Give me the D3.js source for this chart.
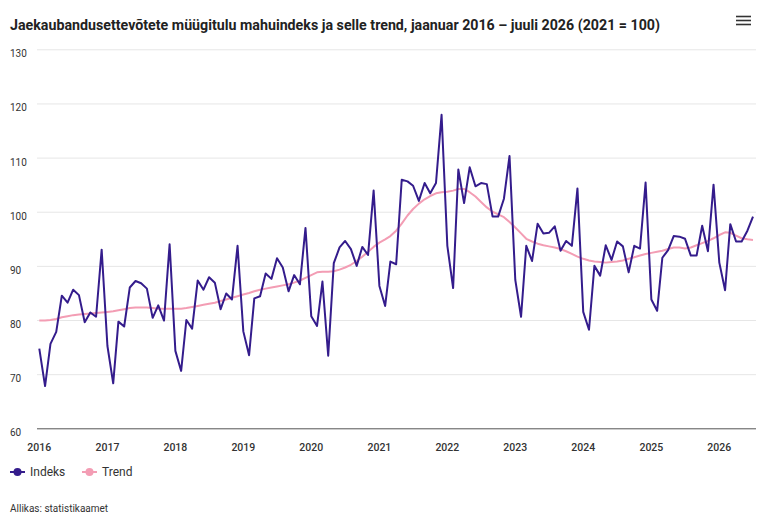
<!DOCTYPE html>
<html>
<head>
<meta charset="utf-8">
<script src="https://cdn.jsdelivr.net/npm/d3@7"></script>
<style>
  body { margin: 0; background: #fff; }
  svg { font-family: Roboto, "Noto Sans", sans-serif; }
</style>
</head>
<body>
<svg id="chart" width="768" height="525"></svg>
<script>
// monthly, January 2016 .. July 2026
var startYear = 2016;
var startMonth = 0;

var indeks = [
  74.7, 67.8, 75.6, 77.8, 84.5, 83.2, 85.6, 84.6, 79.6, 81.4, 80.6, 93.0,
  75.2, 68.3, 79.7, 78.8, 86.0, 87.2, 86.8, 85.8, 80.4, 82.7, 79.9, 94.0,
  74.3, 70.6, 80.0, 78.4, 87.3, 85.6, 87.9, 86.9, 82.0, 84.9, 83.8, 93.7,
  77.9, 73.5, 84.0, 84.4, 88.6, 87.6, 91.4, 89.7, 85.3, 88.3, 86.6, 97.0,
  80.7, 78.9, 87.1, 73.4, 90.5, 93.4, 94.6, 93.1, 90.0, 93.5, 92.0, 103.9,
  86.3, 82.6, 90.8, 90.3, 105.9, 105.6, 104.8, 102.0, 105.3, 103.4, 105.3, 117.9,
  93.7, 85.9, 107.8, 101.6, 108.2, 104.7, 105.3, 105.1, 99.1, 99.1, 102.4, 110.3,
  87.4, 80.6, 93.7, 90.9, 97.8, 96.0, 96.1, 97.3, 92.8, 94.6, 93.7, 104.3,
  81.5, 78.2, 90.0, 88.2, 93.8, 91.1, 94.5, 93.6, 88.8, 93.7, 93.2, 105.4,
  83.8, 81.7, 91.5, 92.9, 95.5, 95.4, 95.0, 91.9, 91.9, 97.4, 92.7, 105.0,
  90.6, 85.5, 97.7, 94.5, 94.5, 96.5, 99.1
];

var trend = [
  79.9, 79.9, 80.0, 80.2, 80.5, 80.7, 80.9, 81.0, 81.1, 81.2, 81.3, 81.4,
  81.5, 81.6, 81.8, 82.0, 82.2, 82.3, 82.3, 82.3, 82.2, 82.1, 82.1, 82.1,
  82.1, 82.1, 82.2, 82.4, 82.6, 82.8, 83.0, 83.2, 83.5, 83.8, 84.1, 84.4,
  84.7, 85.0, 85.3, 85.6, 85.8, 86.0, 86.2, 86.4, 86.6, 86.9, 87.3, 87.8,
  88.3, 88.8, 88.9, 88.9, 89.0, 89.3, 89.7, 90.2, 90.9, 91.7, 92.6, 93.5,
  94.3, 94.9, 95.5, 96.5, 97.8, 99.3, 100.5, 101.5, 102.3, 102.9, 103.4, 103.6,
  103.7, 103.9, 104.2, 104.2, 103.6, 102.8, 101.8, 100.8, 100.0, 99.5, 99.0, 98.1,
  97.1, 96.0, 95.0, 94.5, 94.1, 93.8, 93.6, 93.4, 93.1, 92.7, 92.2, 91.7,
  91.3, 91.0, 90.8, 90.7, 90.6, 90.7, 90.8, 91.0, 91.3, 91.6, 91.9, 92.2,
  92.4, 92.6, 92.8, 93.1, 93.4, 93.4, 93.2, 93.4, 93.8, 94.2, 94.6, 95.1,
  95.7, 96.2, 96.1, 95.6, 95.1, 94.9, 94.8
];

var yTicks = [60, 70, 80, 90, 100, 110, 120, 130];
var xTickYears = [2016, 2017, 2018, 2019, 2020, 2021, 2022, 2023, 2024, 2025, 2026];

var title = "Jaekaubandusettevõtete müügitulu mahuindeks ja selle trend, jaanuar 2016 – juuli 2026 (2021 = 100)";
var source = "Allikas: statistikaamet";
var colIndeks = "#341c8c";
var colTrend = "#f39db4";

var dates = indeks.map(function(d, i) { return new Date(startYear, startMonth + i, 1); });

var svg = d3.select("#chart");

var x = d3.scaleTime()
    .domain([dates[0], dates[dates.length - 1]])
    .range([39.3, 753]);

var y = d3.scaleLinear()
    .domain([60, 130])
    .range([428.3, 49.3]);

// title
svg.append("text")
    .attr("x", 10)
    .attr("y", 30)
    .attr("font-size", 14.5)
    .attr("font-weight", "bold")
    .attr("fill", "#222")
    .attr("textLength", 650)
    .attr("lengthAdjust", "spacingAndGlyphs")
    .text(title);

// menu icon
svg.append("g")
  .selectAll("line")
  .data([16.5, 20.5, 24.5])
  .join("line")
    .attr("x1", 736).attr("x2", 751)
    .attr("y1", function(d) { return d; })
    .attr("y2", function(d) { return d; })
    .attr("stroke", "#333")
    .attr("stroke-width", 1.6);

// grid + y labels
var grid = svg.append("g");
grid.selectAll("line")
  .data(yTicks)
  .join("line")
    .attr("x1", 37).attr("x2", 756)
    .attr("y1", function(d) { return y(d) + 0.5; })
    .attr("y2", function(d) { return y(d) + 0.5; })
    .attr("stroke", function(d) { return d === 60 ? "#555" : "#e6e6e6"; })
    .attr("stroke-width", 1);

grid.selectAll("text")
  .data(yTicks)
  .join("text")
    .attr("x", 10)
    .attr("y", function(d) { return y(d) + 8; })
    .attr("font-size", 10)
    .attr("fill", "#333")
    .text(function(d) { return d; });

// x axis labels
svg.append("g")
  .selectAll("text")
  .data(xTickYears)
  .join("text")
    .attr("x", function(d) { return x(new Date(d, 0, 1)); })
    .attr("y", 450.5)
    .attr("text-anchor", "middle")
    .attr("font-size", 10.5)
    .attr("font-weight", 500)
    .attr("fill", "#333")
    .text(function(d) { return d; });

var line = d3.line()
    .x(function(d, i) { return x(dates[i]); })
    .y(function(d) { return y(d); });

svg.append("path")
    .datum(trend)
    .attr("fill", "none")
    .attr("stroke", colTrend)
    .attr("stroke-width", 2)
    .attr("stroke-linejoin", "round")
    .attr("d", line);

svg.append("path")
    .datum(indeks)
    .attr("fill", "none")
    .attr("stroke", colIndeks)
    .attr("stroke-width", 2)
    .attr("stroke-linejoin", "round")
    .attr("d", line);

// legend
var legend = svg.append("g")
  .selectAll("g")
  .data([{ name: "Indeks", color: colIndeks, x: 10 }, { name: "Trend", color: colTrend, x: 82 }])
  .join("g")
    .attr("transform", function(d) { return "translate(" + d.x + ",472)"; });

legend.append("line")
    .attr("x1", 0).attr("x2", 15)
    .attr("stroke", function(d) { return d.color; })
    .attr("stroke-width", 2);

legend.append("circle")
    .attr("cx", 7.5)
    .attr("r", 4)
    .attr("fill", function(d) { return d.color; });

legend.append("text")
    .attr("x", 20)
    .attr("y", 4)
    .attr("font-size", 12)
    .attr("fill", "#333")
    .text(function(d) { return d.name; });

svg.append("text")
    .attr("x", 10)
    .attr("y", 511.5)
    .attr("font-size", 10)
    .attr("fill", "#333")
    .text(source);
</script>
</body>
</html>
